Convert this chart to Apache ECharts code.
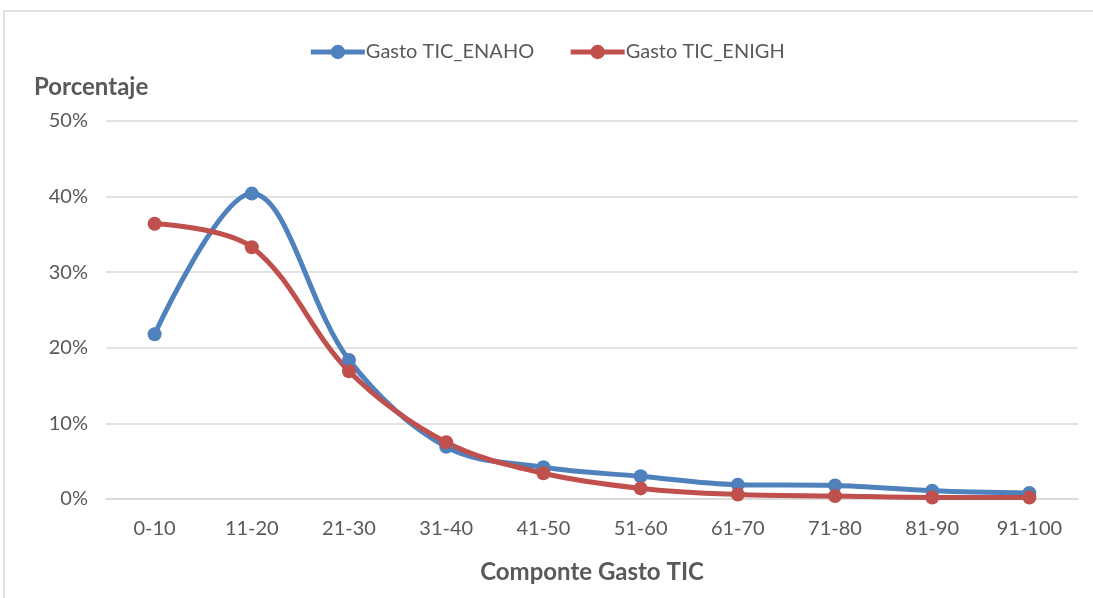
<!DOCTYPE html>
<html><head><meta charset="utf-8">
<script src="https://cdn.jsdelivr.net/npm/echarts@6/dist/echarts.min.js"></script>
<style>html,body{margin:0;padding:0;background:#fff;}#c{width:1093px;height:598px;}</style>
</head><body><div id="c"></div>
<script>
const categories = ['0-10','11-20','21-30','31-40','41-50','51-60','61-70','71-80','81-90','91-100'];
const enaho = [21.8, 40.4, 18.4, 6.9, 4.2, 3.0, 1.9, 1.8, 1.1, 0.8];
const enigh = [36.4, 33.3, 16.9, 7.5, 3.4, 1.4, 0.6, 0.4, 0.2, 0.2];
const seriesNames = ['Gasto TIC_ENAHO', 'Gasto TIC_ENIGH'];
const colors = ['#4f81bd', '#c0504d'];
const font = 'Lato, "Open Sans", sans-serif';
const txt = '#595959';
const chart = echarts.init(document.getElementById('c'));
chart.setOption({
  animation: false,
  graphic: [{type:'rect', shape:{x:4, y:11, width:1200, height:700}, style:{fill:'none', stroke:'#d9d9d9', lineWidth:1.5}, silent:true}],
  legend: {top: 37, left: 'center', itemWidth: 54, itemHeight: 18, itemGap: 34,
    lineStyle: {width: 5}, itemStyle: {borderWidth: 0},
    textStyle: {fontFamily: font, fontSize: 20, color: txt, padding:[0,0,0,-4]}, data: seriesNames},
  grid: {left: 106, right: 15, top: 121, bottom: 99, containLabel: false},
  xAxis: {type: 'category', data: categories, boundaryGap: true,
    name: 'Componte Gasto TIC', nameLocation: 'middle', nameGap: 61,
    nameTextStyle: {fontFamily: font, fontSize: 24, fontWeight: 'bold', color: txt},
    axisLine: {show: true, lineStyle: {color: '#d9d9d9', width: 1.5}}, axisTick: {show: false},
    axisLabel: {fontFamily: font, fontSize: 20, color: txt, margin: 20}},
  yAxis: {type: 'value', min: 0, max: 50, interval: 10,
    name: 'Porcentaje', nameLocation: 'end', nameGap: 22,
    nameTextStyle: {fontFamily: font, fontSize: 24, fontWeight: 'bold', color: txt, align: 'left', padding:[0,0,0,-72]},
    axisLine: {show: false}, axisTick: {show: false},
    splitLine: {lineStyle: {color: '#d9d9d9', width: 1.5}},
    axisLabel: {fontFamily: font, fontSize: 20, color: txt, margin: 18, formatter: '{value}%'}},
  series: [
    {name: seriesNames[0], type: 'line', data: enaho, smooth: 0.35, symbol: 'circle', symbolSize: 14,
     lineStyle: {color: colors[0], width: 5}, itemStyle: {color: colors[0]}},
    {name: seriesNames[1], type: 'line', data: enigh, smooth: 0.35, symbol: 'circle', symbolSize: 14,
     lineStyle: {color: colors[1], width: 5}, itemStyle: {color: colors[1]}}
  ]
});
</script></body></html>
